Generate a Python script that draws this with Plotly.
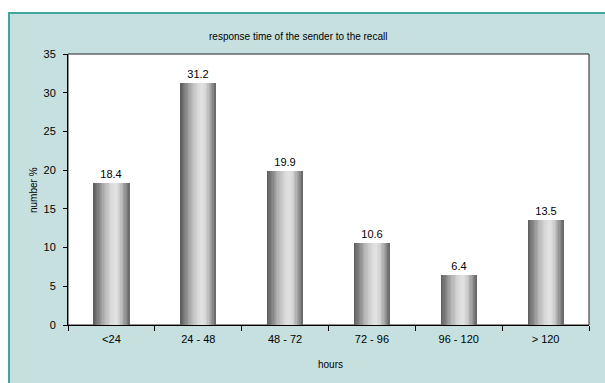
import plotly.graph_objects as go

# Data
categories = ["<24", "24 - 48", "48 - 72", "72 - 96", "96 - 120", "> 120"]
values = [18.4, 31.2, 19.9, 10.6, 6.4, 13.5]
y_ticks = [0, 5, 10, 15, 20, 25, 30, 35]

FONT = "Liberation Sans, Arial, sans-serif"
W, H = 605, 383
M_L, M_R, M_T, M_B = 68, 16, 54, 58
PW, PH = W - M_L - M_R, H - M_T - M_B

BAR_W = 0.415
# grey levels across a bar, left to right, for a cylinder look
shade_stops = [(0.0, 95), (0.12, 125), (0.3, 180), (0.5, 218), (0.62, 226),
               (0.72, 210), (0.85, 160), (0.95, 120), (1.0, 100)]


def shade(t):
    for (t0, g0), (t1, g1) in zip(shade_stops[:-1], shade_stops[1:]):
        if t0 <= t <= t1:
            g = g0 + (g1 - g0) * (t - t0) / (t1 - t0)
            g = int(round(g))
            return f"rgb({g},{g},{g})"
    return "rgb(100,100,100)"


def px_x(px):
    return (px - M_L) / PW


def px_y(py):
    return (H - M_B - py) / PH


fig = go.Figure()

# base bar carrying the value labels
fig.add_trace(go.Bar(
    x=categories, y=values, width=BAR_W,
    marker=dict(color=shade(0.0), line=dict(width=0)),
    text=[f"{v:.1f}" for v in values], textposition="outside",
    textfont=dict(family=FONT, size=11, color="black"),
    cliponaxis=False, hoverinfo="skip", showlegend=False,
))

# layered strips for the gradient
N = 28
for i in range(1, N):
    t = i / N
    fig.add_trace(go.Bar(
        x=categories, y=values,
        width=BAR_W * (1 - t), offset=-BAR_W / 2 + BAR_W * t,
        marker=dict(color=shade(t + 0.5 / N), line=dict(width=0)),
        hoverinfo="skip", showlegend=False,
    ))

shapes = [
    # outer teal panel
    dict(type="rect", xref="paper", yref="paper", layer="below",
         x0=px_x(9), x1=px_x(640), y0=px_y(420), y1=px_y(13),
         fillcolor="#c5e0df", line=dict(color="#3fa89d", width=2)),
    # white plot area with dark frame
    dict(type="rect", xref="paper", yref="paper", layer="below",
         x0=0, x1=1, y0=0, y1=1,
         fillcolor="white", line=dict(color="#222222", width=1)),
]


def label(text, px, py, size, angle=0):
    return dict(text=text, xref="paper", yref="paper", x=px_x(px), y=px_y(py),
                xanchor="center", yanchor="middle", textangle=angle,
                showarrow=False, font=dict(family=FONT, size=size, color="black"))


annotations = [
    label("response time of the sender to the recall", 298, 37, 10),
    label("hours", 330, 364, 10),
    label("number %", 33, 190, 10, -90),
]

fig.update_layout(
    width=W, height=H,
    margin=dict(l=M_L, r=M_R, t=M_T, b=M_B, pad=0),
    paper_bgcolor="white", plot_bgcolor="rgba(0,0,0,0)",
    barmode="overlay", bargap=0,
    shapes=shapes, annotations=annotations,
    font=dict(family=FONT, size=11, color="black"),
    xaxis=dict(
        type="category", tickson="boundaries", ticks="outside", ticklen=5,
        tickcolor="black", showline=True, linecolor="black", linewidth=1,
        showgrid=False, zeroline=False, ticklabelstandoff=4,
        tickfont=dict(family=FONT, size=11, color="black"),
    ),
    yaxis=dict(
        range=[0, 35], tickvals=y_ticks, ticks="outside", ticklen=4,
        tickcolor="black", showline=True, linecolor="black", linewidth=1,
        showgrid=False, zeroline=False, ticklabelstandoff=5,
        tickfont=dict(family=FONT, size=11, color="black"),
    ),
)

fig.write_html("out.html")
